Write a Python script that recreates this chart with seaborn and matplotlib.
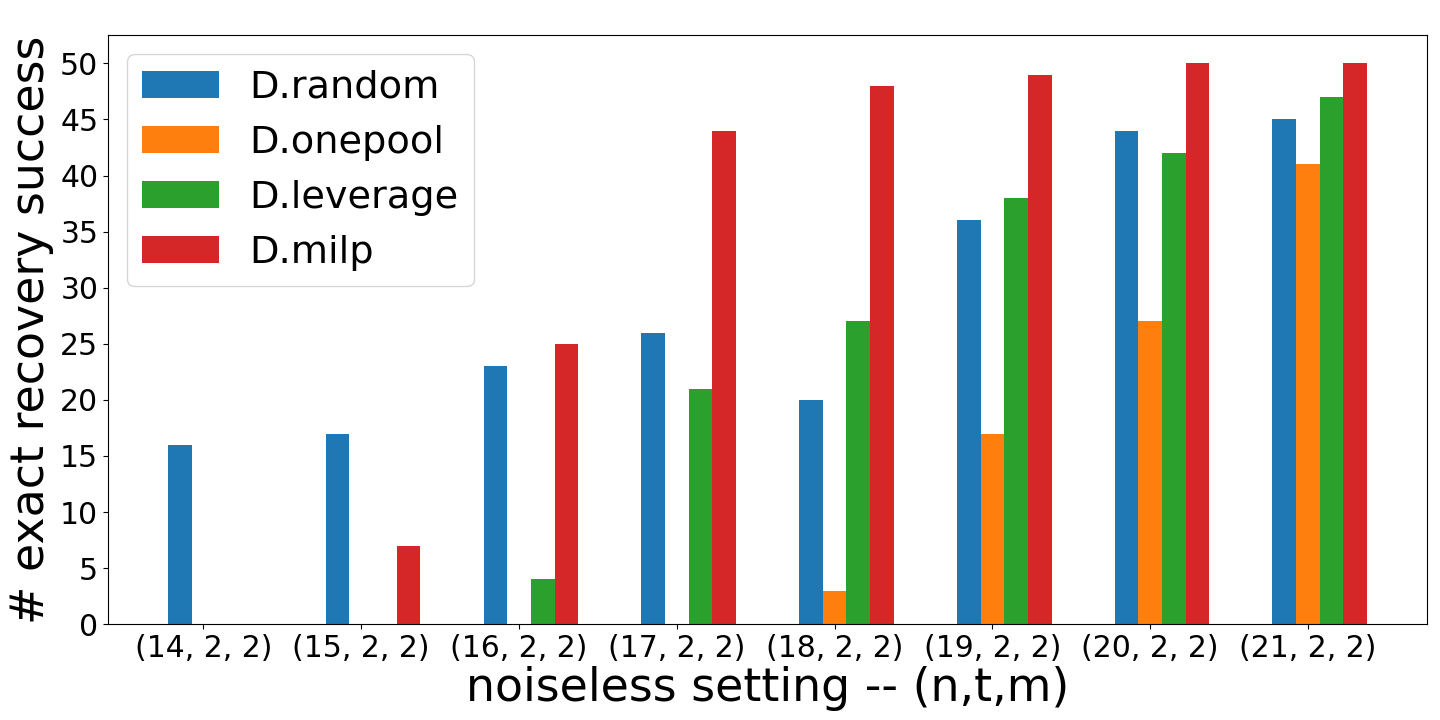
import numpy as np
import pandas as pd
import seaborn as sns
import matplotlib
matplotlib.use('Agg')
import matplotlib.pyplot as plt

# exact recovery counts per noiseless setting (n,t,m)
settings = ['(14, 2, 2)', '(15, 2, 2)', '(16, 2, 2)', '(17, 2, 2)',
            '(18, 2, 2)', '(19, 2, 2)', '(20, 2, 2)', '(21, 2, 2)']
methods = ['D.random', 'D.onepool', 'D.leverage', 'D.milp']
d_random = [16, 17, 23, 26, 20, 36, 44, 45]
d_onepool = [0, 0, 0, 0, 3, 17, 27, 41]
d_leverage = [0, 0, 4, 21, 27, 38, 42, 47]
d_milp = [0, 7, 25, 44, 48, 49, 50, 50]

df = pd.DataFrame({'setting': settings, 'D.random': d_random, 'D.onepool': d_onepool,
                   'D.leverage': d_leverage, 'D.milp': d_milp})
df = df.melt(id_vars='setting', var_name='method', value_name='success')

colors = ['#1f77b4', '#ff7f0e', '#2ca02c', '#d62728']

fig, ax = plt.subplots(figsize=(14.4, 7.2), dpi=100)
sns.barplot(data=df, x='setting', y='success', hue='method', hue_order=methods,
            order=settings, palette=colors, saturation=1, width=0.6,
            linewidth=0, errorbar=None, ax=ax)

# ticks sit under the second bar of each group in the original
ax.set_xticks(np.arange(len(settings)) - 0.075)
ax.set_xticklabels(settings)
ax.set_xlim(-0.68, len(settings) - 1 + 0.68)
ax.set_ylim(0, 52.5)
ax.set_yticks(range(0, 51, 5))
ax.tick_params(axis='both', labelsize=21.5)
ax.set_xlabel('noiseless setting -- (n,t,m)', fontsize=33, labelpad=2)
ax.set_ylabel('# exact recovery success', fontsize=33)
ax.legend(loc='upper left', fontsize=27.5)

fig.subplots_adjust(left=0.075, right=0.991, top=0.951, bottom=0.133)
plt.savefig('out.png', dpi=100)
